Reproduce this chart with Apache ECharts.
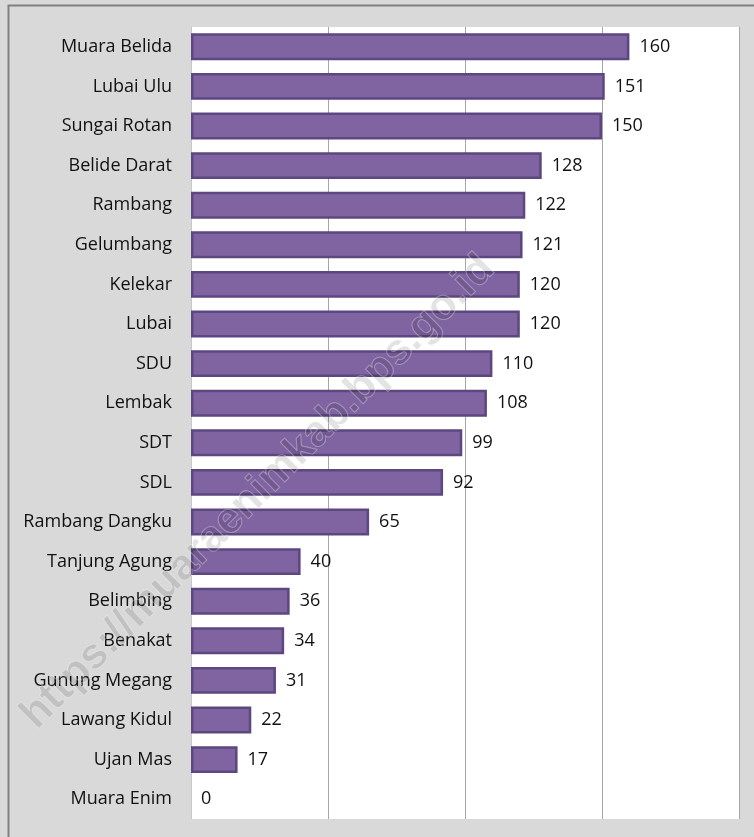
<!DOCTYPE html>
<html>
<head>
<meta charset="utf-8">
<script src="https://cdn.jsdelivr.net/npm/echarts@6/dist/echarts.min.js"></script>
<style>
html,body{margin:0;padding:0;background:#d9d9d9;}
#chart{width:754px;height:837px;}
</style>
</head>
<body>
<div id="chart"></div>
<script>
const categories = ["Muara Belida","Lubai Ulu","Sungai Rotan","Belide Darat","Rambang","Gelumbang","Kelekar","Lubai","SDU","Lembak","SDT","SDL","Rambang Dangku","Tanjung Agung","Belimbing","Benakat","Gunung Megang","Lawang Kidul","Ujan Mas","Muara Enim"];
const values = [160,151,150,128,122,121,120,120,110,108,99,92,65,40,36,34,31,22,17,0];
const watermark = "https://muaraenimkab.bps.go.id";

const seriesData = values.map(v => v === 0 ? {value: v, itemStyle: {borderWidth: 0}} : v);

const chart = echarts.init(document.getElementById('chart'));
chart.setOption({
  backgroundColor: '#d9d9d9',
  animation: false,
  grid: {left: 191, right: 15, top: 27, bottom: 18, show: true, backgroundColor: '#ffffff', borderWidth: 0},
  xAxis: {
    type: 'value', min: 0, max: 200, interval: 50,
    axisLabel: {show: false}, axisTick: {show: false}, axisLine: {show: false},
    splitLine: {show: true, lineStyle: {color: '#a6a6a6', width: 1}}
  },
  yAxis: {
    type: 'category', data: categories, inverse: true,
    axisTick: {show: false},
    axisLine: {show: true, lineStyle: {color: '#c8c8c8', width: 1}},
    axisLabel: {color: '#111', fontFamily: 'Open Sans', fontSize: 18, margin: 19}
  },
  series: [{
    type: 'bar', data: seriesData, barCategoryGap: '32%',
    itemStyle: {color: '#8064a2', borderColor: '#5d4780', borderWidth: 2.5},
    label: {show: true, position: 'right', distance: 10, color: '#111', fontFamily: 'Open Sans', fontSize: 18}
  }],
  graphic: [
    {type: 'rect', left: 6, top: 3, shape: {width: 770, height: 850}, style: {fill: 'none', stroke: '#808080', lineWidth: 2}, z: 100},
    {type: 'text', x: 258, y: 492, rotation: Math.PI / 4, z: 90,
     style: {text: watermark, fontFamily: 'Liberation Sans', fontWeight: 'bold', fontSize: 43,
             align: 'center', verticalAlign: 'middle', fill: 'rgba(0,0,0,0.11)', stroke: 'rgba(255,255,255,0.35)', lineWidth: 1}}
  ]
});
</script>
</body>
</html>
